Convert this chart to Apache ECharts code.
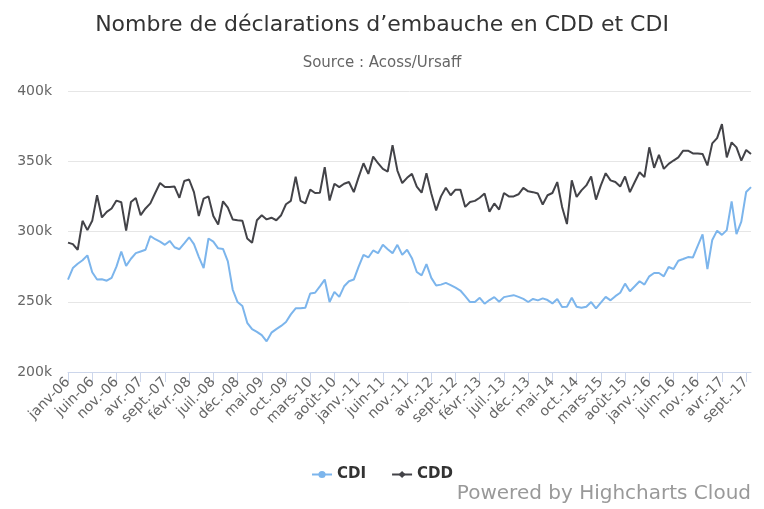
<!DOCTYPE html>
<html>
<head>
<meta charset="utf-8">
<script src="https://cdn.jsdelivr.net/npm/echarts@6/dist/echarts.min.js"></script>
<style>html,body{margin:0;padding:0;background:#fff}#c{width:764px;height:509px}</style>
</head>
<body>
<div id="c"></div>
<script>
const monthNames = ["janv.","févr.","mars","avr.","mai","juin","juil.","août","sept.","oct.","nov.","déc."];
const years = ["06","07","08","09","10","11","12","13","14","15","16","17"];
const categories = [];
years.forEach(y => monthNames.forEach(m => categories.push(m + "-" + y)));
categories[0] = "janv-06";
categories.length = 142;

const yTicks = [200, 250, 300, 350, 400];

const cdi = [
265.8,274,277,279.5,283,271,265.8,266,265,267,
275,285.8,275.5,280.6,284.6,285.8,287,296.8,294.5,292.8,
290.5,293.3,288.8,287.4,291.6,295.9,291,282,274,295,
292.8,288,287.6,278.7,258.7,249.8,247,235,230.5,228.6,
226.2,221.8,228,230.5,232.8,235.6,241,245.3,245.3,245.8,
255.9,256.4,261,265.8,249.8,257,253.5,261,264.6,265.8,
275,283.4,281.5,286.5,284.6,290.5,287.4,284.6,290.5,283.4,
287,281,271.2,268.8,276.8,267,261.5,262.2,263.4,261.8,
260,258,254,249.8,249.8,252.8,248.6,251.2,253.3,250,
253.3,254,254.7,253.5,252,249.8,252,251,252.4,251.2,
248.8,252,246.2,246.4,252.8,246.4,245.8,246.4,249.8,245.3,
249.4,253.5,251,254,256.4,262.9,257.5,261,264.6,262.2,
268.1,270.5,270.5,268.1,274.7,273.3,279.2,280.4,281.8,281.5,
289.8,298,273.3,294,300.6,297.6,301,321.5,298.2,307,
328.1,331.6
];

const cdd = [
292.1,291,287,307.6,301,307.6,325.8,310,314,316.4,
322,320.8,300.6,321,323.9,311.6,316.4,320,327.4,334.5,
331.6,331.6,332,324,336,337,328,311,323.4,325,
311,305,321.5,317,308.6,308,307.6,295,292,308,
311.6,308.6,309.8,308,311.6,319.4,321.8,339,321.8,320,
329.8,327.4,327.6,345.8,322,334,331.6,334,335.2,328,
338.7,348.6,341,353.3,348.6,344.6,342.7,361.5,343.4,334.5,
338.2,341,332,327.6,341.5,327,315,325,331.2,325.8,
329.8,329.8,317.5,321,321.8,324,327,314,320,315.6,
327.4,325,325,326.5,331,328.6,328,327,319.2,325.8,
327.4,335.2,317.5,305.3,336.4,324.6,329.3,332.8,339.2,322.7,
332.8,341.5,336.4,335.2,332,339.2,328,335.2,342.2,338.7,
359.9,345.3,354.5,344.6,348.1,350.5,352.8,357.5,357.5,355.6,
355.6,355.2,347,362.7,366.5,376.4,352.8,363.4,359.9,350.5,
358,355.2
];

const FONT = "DejaVu Sans";
const chart = echarts.init(document.getElementById('c'));
chart.setOption({
  animation: false,
  backgroundColor: '#ffffff',
  textStyle: { fontFamily: FONT },
  title: [
    { text: "Nombre de déclarations d’embauche en CDD et CDI", left: 'center', top: 9,
      textStyle: { fontFamily: FONT, fontSize: 22, fontWeight: 'normal', color: '#333333' } },
    { text: "Source : Acoss/Ursaff", left: 'center', top: 51,
      textStyle: { fontFamily: FONT, fontSize: 15, fontWeight: 'normal', color: '#666666' } }
  ],
  legend: {
    top: 462, left: 'center', itemGap: 25, itemWidth: 20, itemHeight: 9,
    textStyle: { fontFamily: FONT, fontSize: 15, fontWeight: 'bold', color: '#333333' },
    data: ['CDI', 'CDD']
  },
  grid: { left: 68, right: 13, top: 91, bottom: 137, containLabel: false },
  xAxis: {
    type: 'category', data: categories, boundaryGap: false,
    axisLine: { lineStyle: { color: '#ccd6eb' } },
    axisTick: { interval: 4, length: 10, lineStyle: { color: '#ccd6eb' } },
    axisLabel: { interval: 4, rotate: 45, color: '#666666', fontSize: 14, fontFamily: FONT, margin: 8 },
    splitLine: { show: false }
  },
  yAxis: {
    type: 'value', min: yTicks[0], max: yTicks[yTicks.length - 1], interval: 50,
    axisLine: { show: false }, axisTick: { show: false },
    axisLabel: { formatter: v => v + 'k', color: '#666666', fontSize: 14, fontFamily: FONT, margin: 16 },
    splitLine: { lineStyle: { color: '#e6e6e6' } }
  },
  series: [
    { name: 'CDI', type: 'line', data: cdi, symbol: 'circle', symbolSize: 8, showSymbol: false,
      lineStyle: { width: 2, color: '#7cb5ec' }, itemStyle: { color: '#7cb5ec' } },
    { name: 'CDD', type: 'line', data: cdd, symbol: 'diamond', symbolSize: 9, showSymbol: false,
      lineStyle: { width: 2, color: '#434348' }, itemStyle: { color: '#434348' } }
  ],
  graphic: [
    { type: 'text', right: 13, top: 484,
      style: { text: 'Powered by Highcharts Cloud', fill: '#999999', fontSize: 20, fontFamily: FONT } }
  ]
});
</script>
</body>
</html>
